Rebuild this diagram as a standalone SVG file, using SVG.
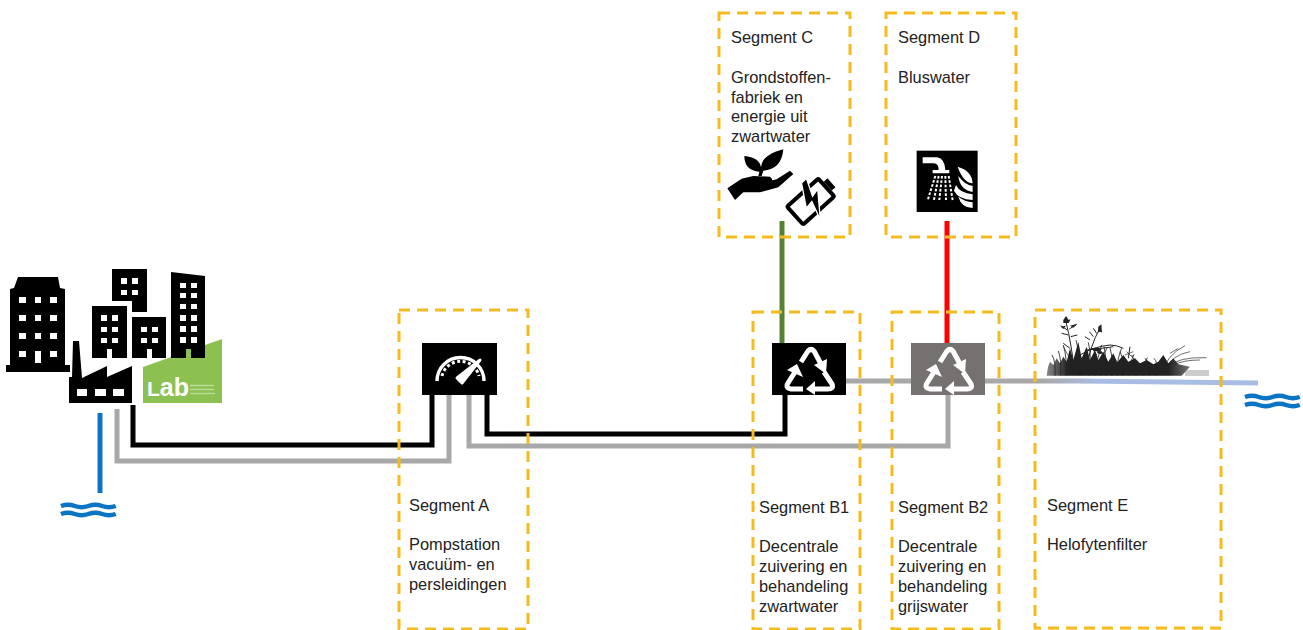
<svg xmlns="http://www.w3.org/2000/svg" width="1303" height="630" viewBox="0 0 1303 630">
<style>
.t{font:16.4px "Liberation Sans",Arial,sans-serif;fill:#222}
.box{fill:none;stroke:#f5bb1e;stroke-width:3;stroke-dasharray:11 7}
.pipe{fill:none;stroke-width:5}
.k{stroke:#000}.g{stroke:#a8a8a8}
.w{fill:#fff}
.wave{fill:none;stroke:#0b74c4;stroke-width:4.500}
.rc{fill:none;stroke:#fff;stroke-width:5;stroke-linejoin:round}
</style>
<defs>
<g id="rec">
<path class="rc" d="M29 19L36 8Q39 5 42 8L49 21"/><path class="w" d="M42 22L55 16L54 31Z"/>
<path class="rc" d="M31 46H19Q13 45 16 40L23 29"/><path class="w" d="M15 27L25 21L31 34Z"/>
<path class="rc" d="M52 29L60 41Q62 46 56 46H41"/><path class="w" d="M43 38L34 46L43 52Z"/>
</g>
<g id="waves"><path class="wave" d="M0 3q7-2.500 13.700 0t13.700 0t13.700 0t13.700 0M0 11q7-2.500 13.700 0t13.700 0t13.700 0t13.700 0"/></g>
<linearGradient id="outlet" gradientUnits="userSpaceOnUse" x1="1040" y1="0" x2="1100" y2="0"><stop offset="0" stop-color="#a8a8a8"/><stop offset="1" stop-color="#a9bde4"/></linearGradient>
<linearGradient id="reed" x1="0" x2="1" y1="0" y2="0"><stop offset="0" stop-color="#888"/><stop offset=".15" stop-color="#222"/><stop offset=".85" stop-color="#222"/><stop offset="1" stop-color="#777"/></linearGradient>
</defs>

<g id="connectors">
<path class="pipe k" d="M133 405V445H432V393"/>
<path class="pipe g" d="M117 409V461H449V393"/>
<path class="pipe k" d="M487 393V434H785V393"/>
<path class="pipe g" d="M469 393V446H948V393"/>
<path class="pipe" stroke="#0b74c4" d="M100 413V493"/>
<path class="pipe" stroke="#548235" d="M782 221V345"/>
<path class="pipe" stroke="#f00" d="M947 221V345"/>
<path class="pipe g" d="M846 381H912"/>
<path class="pipe" stroke="url(#outlet)" d="M985 381H1080L1258 383"/>
</g>

<g id="city">
<path d="M6 372V365H10V289L14 288L18 277H58L60 288L65 289V365H70V372Z"/>
<path class="w" d="M19 297h7v6h-7zM35 297h6v6h-6zM50 297h7v6h-7zM19 315h7v6h-7zM35 315h6v6h-6zM50 315h7v6h-7zM19 333h7v6h-7zM35 333h6v6h-6zM50 333h7v6h-7zM19 351h7v6h-7zM35 351h6v12h-6zM50 351h7v6h-7z"/>
<path d="M112 269H147V312H132V301H112Z"/>
<path class="w" d="M121 278h6v6h-6zM132 278h6v6h-6zM121 290h6v5h-6zM132 290h6v5h-6z"/>
<path d="M92 306H127V358H92Z"/>
<path class="w" d="M101 315h6v6h-6zM112 315h6v6h-6zM101 327h6v5h-6zM112 327h6v5h-6zM101 338h6v5h-6zM112 338h6v5h-6zM107 349h5v9h-5z"/>
<path d="M132 317H166V358H132Z"/>
<path class="w" d="M141 327h6v5h-6zM152 327h6v5h-6zM141 338h6v5h-6zM152 338h6v5h-6zM147 349h5v9h-5z"/>
<path fill="#8cc152" d="M143 367L222 339V403H143Z"/>
<path d="M171 272L205 276V358H171Z"/>
<path class="w" d="M180 283h6v5h-6zM191 283h6v5h-6zM180 293h6v5h-6zM191 293h6v5h-6zM180 304h6v5h-6zM191 304h6v5h-6zM180 315h6v6h-6zM191 315h6v6h-6zM180 326h6v6h-6zM191 326h6v6h-6zM180 337h6v6h-6zM191 337h6v6h-6z"/>
<path fill="#8cc152" d="M186 349h5v9h-5z"/>
<path d="M69 377H72L73 341H79L82 378L107 366V377L132 366V403H69Z"/>
<path class="w" d="M77 389h10v7h-10zM95 389h11v7h-11zM113 389h11v7h-11z"/>
<text x="147" y="396" style="font:bold 25px 'Liberation Sans',Arial,sans-serif;fill:#fff"><tspan font-size="21">L</tspan>ab</text>
<path d="M190 385.500h24M190 389.500h24M190 393.500h25" stroke="#fff" stroke-opacity=".4" stroke-width="1.500"/>
</g>
<use id="water-in" href="#waves" x="61" y="503"/>
<use id="water-out" href="#waves" x="1245" y="394"/>

<g id="segment-a">
<rect class="box" x="399" y="310" width="129" height="319"/>
<text class="t" x="409" y="511">Segment A</text>
<text class="t" x="409" y="550">Pompstation</text>
<text class="t" x="409" y="570">vacuüm- en</text>
<text class="t" x="409" y="590">persleidingen</text>
<rect x="422" y="343" width="75" height="52"/>
<path d="M437 381A23.500 23.500 0 0 1 484 381" fill="none" stroke="#fff" stroke-width="3.500"/>
<path d="M442 376A19 19 0 0 1 479 376" fill="none" stroke="#fff" stroke-width="3" stroke-dasharray="3 2.500"/>
<path d="M457 378L480 360L462 383Z" fill="#fff" stroke="#fff" stroke-width="3" stroke-linejoin="round"/>
</g>

<g id="segment-b1">
<rect class="box" x="753" y="312" width="107" height="317"/>
<text class="t" x="759" y="513">Segment B1</text>
<text class="t" x="759" y="552">Decentrale</text>
<text class="t" x="759" y="572">zuivering en</text>
<text class="t" x="759" y="592">behandeling</text>
<text class="t" x="759" y="612">zwartwater</text>
<rect x="772" y="343" width="74" height="52"/>
<use href="#rec" x="772" y="343"/>
</g>

<g id="segment-b2">
<rect class="box" x="892" y="312" width="107" height="317"/>
<text class="t" x="898" y="513">Segment B2</text>
<text class="t" x="898" y="552">Decentrale</text>
<text class="t" x="898" y="572">zuivering en</text>
<text class="t" x="898" y="592">behandeling</text>
<text class="t" x="898" y="612">grijswater</text>
<rect x="911" y="343" width="74" height="52" fill="#767171"/>
<use href="#rec" x="911" y="343"/>
</g>

<g id="segment-c">
<rect class="box" x="719" y="13" width="131" height="224"/>
<text class="t" x="731" y="43">Segment C</text>
<text class="t" x="731" y="83">Grondstoffen-</text>
<text class="t" x="731" y="103">fabriek en</text>
<text class="t" x="731" y="122">energie uit</text>
<text class="t" x="731" y="142">zwartwater</text>
<g transform="translate(710 140) scale(.3333)">
<path d="M52 145L95 116L130 108L180 110Q192 120 183 128L145 132L200 118L240 92L250 102L205 142L150 157L100 157L75 180Z"/>
<path d="M145 108Q150 90 146 95Q103 90 103 48Q148 52 153 82Q155 45 220 28Q215 88 160 92L155 108Z"/>
<g transform="rotate(-42 305 182)">
<rect x="238" y="146" width="126" height="72" rx="5" fill="none" stroke="#000" stroke-width="12"/>
<rect x="370" y="164" width="15" height="36"/>
<path d="M318 122L278 188L304 184L286 242L342 168L316 174L338 122Z" fill="#000" stroke="#fff" stroke-width="4"/>
</g>
</g>
</g>

<g id="segment-d">
<rect class="box" x="886" y="13" width="130" height="224"/>
<text class="t" x="898" y="43">Segment D</text>
<text class="t" x="898" y="83">Bluswater</text>
<g transform="translate(710 140) scale(.3333)">
<rect x="620" y="32" width="183" height="184"/>
<path d="M638 52H682Q704 56 706 90H718V100H668V90H686Q686 70 672 70H638Z" fill="#fff"/>
<path d="M676 108L654 178M686 108L672 180M696 108L688 180M706 108L708 180M716 108L728 180" stroke="#fff" stroke-width="6" stroke-dasharray="8 5" fill="none"/>
<path d="M743 80Q786 92 788 130Q760 128 743 80ZM745 108Q765 135 788 138V156Q750 150 745 108ZM738 135Q750 160 788 163V180Q745 178 732 152ZM745 170Q765 185 788 187V204Q755 204 745 170Z" fill="#fff"/>
</g>
</g>

<g id="segment-e">
<rect class="box" x="1035" y="310" width="186" height="318"/>
<text class="t" x="1047" y="511">Segment E</text>
<text class="t" x="1047" y="550">Helofytenfilter</text>
<rect x="1185" y="370" width="24" height="6" fill="#ccc"/>
<g transform="translate(1030 305) scale(.3333)">
<path fill="url(#reed)" d="M50 212L54 185L60 170L70 180L80 160L90 175L100 155L110 170L120 130L130 165L145 110L155 160L170 125L180 165L195 135L205 165L220 140L235 170L250 145L262 172L280 150L295 170L315 160L330 175L350 165L370 178L385 170L400 150L415 175L430 160L445 178L480 185L455 212Z"/>
<g fill="none" stroke="#222" stroke-width="3">
<path d="M135 210Q125 120 108 50M165 210Q180 120 210 70M120 130L100 115M115 90L95 85M112 75L92 62M118 72L140 58M122 95L142 90M180 105L165 95M190 95L178 80M200 85L190 70M150 150Q190 125 240 120Q260 120 280 130M170 135Q220 130 250 125M200 150L190 135M295 160L300 125"/>
<path stroke-width="2" d="M395 205Q410 150 465 122M405 195Q425 150 480 140M415 185Q445 155 530 158M430 180Q460 165 510 165M420 145L445 130M100 125L125 170M285 150L310 140M290 140L305 155"/>
<path stroke-width="2.500" d="M75 212Q78 170 66 150M92 212Q95 165 85 138M108 212Q112 160 100 120M150 212Q150 150 138 105M178 212Q185 150 175 112M195 212Q200 160 215 120M212 212Q210 160 232 128M228 212Q230 160 222 125M245 212Q250 165 240 128M262 212Q260 160 275 130M278 212Q285 170 270 140M298 212Q300 170 312 148M318 212Q320 175 305 150M338 212Q340 180 352 158M358 212Q360 180 345 160M378 212Q385 170 372 160"/>
</g>
<path d="M100 45L108 33L116 45L122 42L116 54L100 54ZM205 65L214 58L216 82L204 80ZM180 130Q210 125 215 135Q200 145 180 130ZM200 140Q215 135 220 145Q205 150 200 140ZM92 65L108 62L100 72ZM120 62L142 56L130 68Z" fill="#222"/>
</g>
</g>
</svg>
